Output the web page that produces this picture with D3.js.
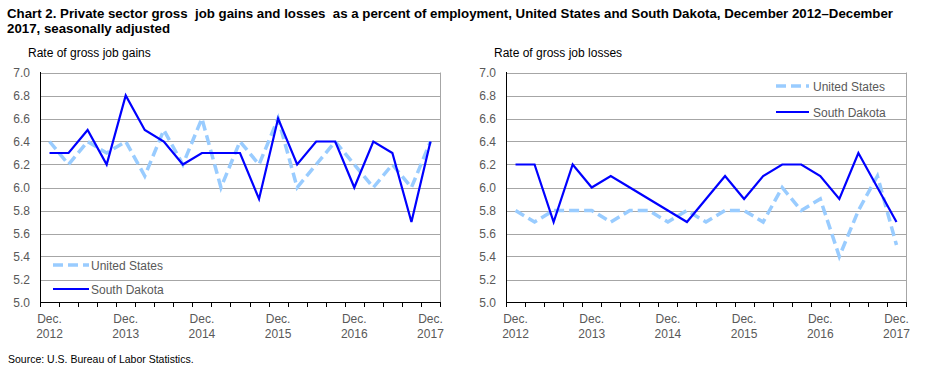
<!DOCTYPE html>
<html>
<head>
<meta charset="utf-8">
<script src="https://cdn.jsdelivr.net/npm/d3@7"></script>
<style>
body{margin:0;background:#fff;}
svg{display:block;font-family:Arial,"Liberation Sans",sans-serif;}
</style>
</head>
<body>
<svg width="930" height="372"></svg>
<script>
// quarters Dec 2012 .. Dec 2017
var quarters = [];
var months = ['Dec.','Mar.','June','Sept.'];
for (var i = 0; i < 21; i++) {
  var yr = 2012 + Math.ceil(i / 4);
  quarters.push(months[i % 4] + ' ' + yr);
}
var yTicks = [5.0,5.2,5.4,5.6,5.8,6.0,6.2,6.4,6.6,6.8,7.0];
var xTickLabels = ['Dec. 2012','Dec. 2013','Dec. 2014','Dec. 2015','Dec. 2016','Dec. 2017'];

var usGains = [6.4,6.2,6.4,6.3,6.4,6.1,6.5,6.2,6.6,6.0,6.4,6.2,6.6,6.0,6.2,6.4,6.2,6.0,6.2,6.0,6.4];
var sdGains = [6.3,6.3,6.5,6.2,6.8,6.5,6.4,6.2,6.3,6.3,6.3,5.9,6.6,6.2,6.4,6.4,6.0,6.4,6.3,5.7,6.4];
var usLosses = [5.8,5.7,5.8,5.8,5.8,5.7,5.8,5.8,5.7,5.8,5.7,5.8,5.8,5.7,6.0,5.8,5.9,5.4,5.8,6.1,5.5];
var sdLosses = [6.2,6.2,5.7,6.2,6.0,6.1,6.0,5.9,5.8,5.7,5.9,6.1,5.9,6.1,6.2,6.2,6.1,5.9,6.3,6.0,5.7];

var svg = d3.select('svg');

svg.append('text').attr('x',7).attr('y',18).attr('font-weight','bold').attr('font-size',12.5)
  .style('white-space','pre')
  .attr('textLength',886).attr('lengthAdjust','spacingAndGlyphs')
  .text('Chart 2. Private sector gross  job gains and losses  as a percent of employment, United States and South Dakota, December 2012\u2013December');
svg.append('text').attr('x',7).attr('y',33).attr('font-weight','bold').attr('font-size',12.5)
  .attr('textLength',163).attr('lengthAdjust','spacingAndGlyphs')
  .text('2017, seasonally adjusted');
svg.append('text').attr('x',8).attr('y',363).attr('font-size',10.5).attr('fill','#000')
  .text('Source: U.S. Bureau of Labor Statistics.');

function panel(x0, title, us, sd, leg){
  var g = svg.append('g');
  var x = d3.scaleBand().domain(quarters).range([x0, x0+400]);
  var y = d3.scaleLinear().domain([5,7]).range([302.5,72.5]);

  g.append('text').attr('x',x0-12).attr('y',57).attr('font-size',12).attr('fill','#000').text(title);

  // grid
  g.selectAll('.grid').data(yTicks.slice(1)).enter().append('line')
    .attr('x1',x0).attr('x2',x0+400)
    .attr('y1',function(d){return Math.round(y(d))+0.5;}).attr('y2',function(d){return Math.round(y(d))+0.5;})
    .attr('stroke','#a6a6a6').attr('stroke-width',1);
  g.append('line').attr('x1',x0+400.5).attr('x2',x0+400.5).attr('y1',72.5).attr('y2',302.5)
    .attr('stroke','#a6a6a6');

  // y labels
  g.selectAll('.yl').data(yTicks).enter().append('text')
    .attr('x',x0-10).attr('y',function(d){return y(d)+4;})
    .attr('text-anchor','end').attr('font-size',12).attr('fill','#595959')
    .text(function(d){return d.toFixed(1);});

  // axes
  g.append('line').attr('x1',x0+0.5).attr('x2',x0+0.5).attr('y1',72).attr('y2',303).attr('stroke','#000');
  g.append('line').attr('x1',x0).attr('x2',x0+401).attr('y1',302.5).attr('y2',302.5).attr('stroke','#000');
  var edges = quarters.map(function(q){return x(q);}).concat([x0+400]);
  g.selectAll('.tk').data(edges).enter().append('line')
    .attr('x1',function(d){return Math.round(d)+0.5;}).attr('x2',function(d){return Math.round(d)+0.5;})
    .attr('y1',302.5).attr('y2',307).attr('stroke','#000');

  var xl = g.selectAll('.xl').data(xTickLabels).enter().append('text')
    .attr('text-anchor','middle').attr('font-size',12).attr('fill','#595959');
  xl.append('tspan').attr('x',function(d){return x(d)+x.bandwidth()/2;}).attr('y',323)
    .text(function(d){return d.split(' ')[0];});
  xl.append('tspan').attr('x',function(d){return x(d)+x.bandwidth()/2;}).attr('y',338)
    .text(function(d){return d.split(' ')[1];});

  var line = d3.line()
    .x(function(d,i){return x(quarters[i])+x.bandwidth()/2;})
    .y(function(d){return y(d);});
  g.append('path').datum(us).attr('d',line).attr('fill','none')
    .attr('stroke','#99ccff').attr('stroke-width',3.5).attr('stroke-dasharray','10,5');
  g.append('path').datum(sd).attr('d',line).attr('fill','none')
    .attr('stroke','#0000ff').attr('stroke-width',2.2);

  // legend
  g.append('line').attr('x1',leg[0]).attr('x2',leg[1]).attr('y1',leg[3]).attr('y2',leg[3])
    .attr('stroke','#99ccff').attr('stroke-width',3.5).attr('stroke-dasharray','10,5');
  g.append('text').attr('x',leg[2]).attr('y',leg[3]+4.5).attr('font-size',12).attr('fill','#595959').text('United States');
  g.append('line').attr('x1',leg[0]).attr('x2',leg[1]).attr('y1',leg[4]).attr('y2',leg[4])
    .attr('stroke','#0000ff').attr('stroke-width',2.2);
  g.append('text').attr('x',leg[2]).attr('y',leg[4]+4.5).attr('font-size',12).attr('fill','#595959').text('South Dakota');
}

panel(40,'Rate of gross job gains',usGains,sdGains,[53,89,91,265,289]);
panel(506,'Rate of gross job losses',usLosses,sdLosses,[776,809,813,86,112]);
</script>
</body>
</html>
